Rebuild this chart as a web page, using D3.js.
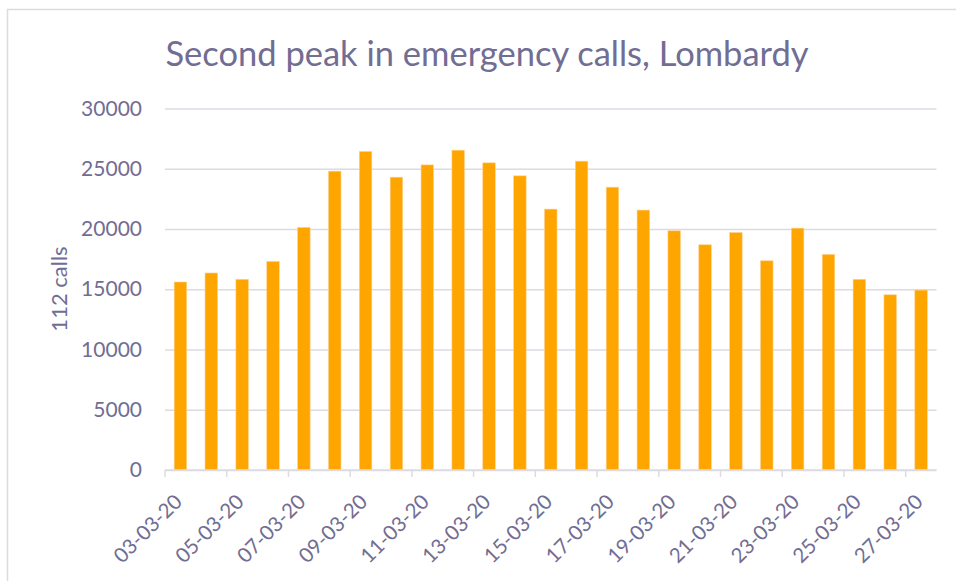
<!DOCTYPE html>
<html lang="en">
  <head>
    <meta charset="UTF-8" />
    <title>Second peak in emergency calls, Lombardy</title>
    <script src="https://d3js.org/d3.v7.min.js"></script>
    <style>
      /* page styles */
      html, body {
        margin: 0;
        padding: 0;
        background: #ffffff;
      }
      svg text {
        font-family: Lato, "Open Sans", sans-serif;
        fill: #716d93;
      }
    </style>
  </head>
  <body>
    <svg id="chart"></svg>
    <script>
      const WIDTH = 956;
      const HEIGHT = 581;

      // data
      const dates = [
        "03-03-20", "04-03-20", "05-03-20", "06-03-20", "07-03-20",
        "08-03-20", "09-03-20", "10-03-20", "11-03-20", "12-03-20",
        "13-03-20", "14-03-20", "15-03-20", "16-03-20", "17-03-20",
        "18-03-20", "19-03-20", "20-03-20", "21-03-20", "22-03-20",
        "23-03-20", "24-03-20", "25-03-20", "26-03-20", "27-03-20"
      ];
      const calls = [
        15600, 16350, 15820, 17310, 20130,
        24800, 26430, 24300, 25320, 26540,
        25490, 24410, 21650, 25630, 23470,
        21570, 19850, 18690, 19710, 17360,
        20070, 17890, 15820, 14540, 14930
      ];
      const yTicks = [0, 5000, 10000, 15000, 20000, 25000, 30000];

      const margin = { top: 108.5, right: 19.5, bottom: 111, left: 165 };
      const plotW = WIDTH - margin.left - margin.right;
      const plotH = HEIGHT - margin.top - margin.bottom;

      const svg = d3.select("#chart")
        .attr("width", WIDTH)
        .attr("height", HEIGHT);

      // chart frame
      svg.append("rect")
        .attr("x", 7.5)
        .attr("y", 9.5)
        .attr("width", WIDTH + 10)
        .attr("height", HEIGHT + 10)
        .attr("fill", "none")
        .attr("stroke", "#dcdbe3")
        .attr("stroke-width", 1.5);

      svg.append("text")
        .attr("x", 487)
        .attr("y", 66)
        .attr("text-anchor", "middle")
        .style("font-size", "34.5px")
        .text("Second peak in emergency calls, Lombardy");

      const x = d3.scaleBand()
        .domain(dates)
        .range([0, plotW])
        .paddingInner(0.595)
        .paddingOuter(0.2975);

      const y = d3.scaleLinear()
        .domain([0, 30000])
        .range([plotH, 0]);

      const g = svg.append("g")
        .attr("transform", `translate(${margin.left},${margin.top})`);

      // gridlines + y labels
      const yAxis = g.append("g")
        .call(d3.axisLeft(y)
          .tickValues(yTicks)
          .tickFormat(d3.format("d"))
          .tickSize(-plotW)
          .tickPadding(23));
      yAxis.select(".domain").remove();
      yAxis.selectAll(".tick line")
        .attr("stroke", "#dcdbe3")
        .attr("stroke-width", 1.5);
      yAxis.selectAll(".tick text")
        .style("font-size", "21px")
        .attr("fill", "#716d93");

      // bars
      g.append("g")
        .selectAll("rect")
        .data(dates)
        .join("rect")
        .attr("x", (d) => x(d))
        .attr("width", x.bandwidth())
        .attr("y", (d, i) => y(calls[i]))
        .attr("height", (d, i) => plotH - y(calls[i]))
        .attr("fill", "#ffa500")
        .attr("stroke", "#ffd089")
        .attr("stroke-width", 0.6);

      // x axis line and tick marks at every other category boundary
      const shown = dates.filter((d, i) => i % 2 === 0);
      const boundary = (d) => x(d) + x.bandwidth() / 2 - x.step() / 2;

      const xAxis = g.append("g").attr("transform", `translate(0,${plotH})`);
      xAxis.append("line")
        .attr("x1", 0)
        .attr("x2", plotW)
        .attr("stroke", "#dcdbe3")
        .attr("stroke-width", 1.5);
      xAxis.selectAll(".tickmark")
        .data(shown)
        .join("line")
        .attr("class", "tickmark")
        .attr("x1", boundary)
        .attr("x2", boundary)
        .attr("y1", 0)
        .attr("y2", 7)
        .attr("stroke", "#dcdbe3")
        .attr("stroke-width", 1.5);
      xAxis.selectAll(".xlabel")
        .data(shown)
        .join("text")
        .attr("class", "xlabel")
        .attr("text-anchor", "end")
        .style("font-size", "20.5px")
        .attr("transform", (d) =>
          `translate(${x(d) + x.bandwidth() / 2 + 3},${33}) rotate(-45)`)
        .text((d) => d);

      // y axis title
      svg.append("text")
        .attr("transform", "translate(67,289) rotate(-90)")
        .attr("text-anchor", "middle")
        .style("font-size", "22px")
        .text("112 calls");
    </script>
  </body>
</html>
